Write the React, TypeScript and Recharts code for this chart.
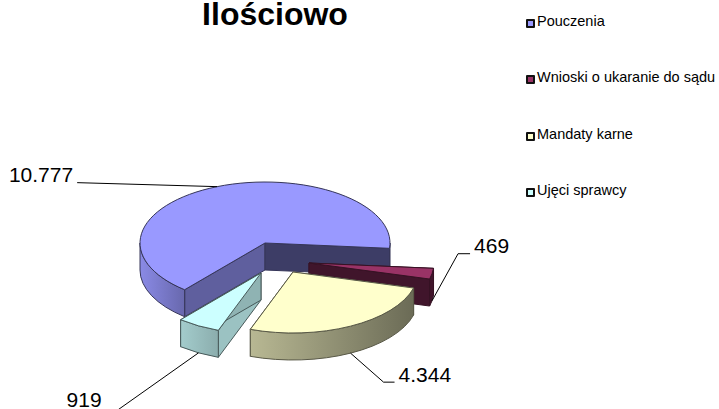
import React from 'react'
import { PieChart, Pie, Legend } from 'recharts'

const categories = ['Pouczenia', 'Wnioski o ukaranie do sądu', 'Mandaty karne', 'Ujęci sprawcy']
const values = [10777, 469, 4344, 919]
const valueLabels = ['10.777', '469', '4.344', '919']
const colors = ['#9999ff', '#993366', '#ffffcc', '#ccffff']

const chartData = categories.map((name, i) => ({ name, value: values[i], fill: colors[i] }))

const FONT = 'Arial, "Liberation Sans", sans-serif'

// tilt of the fake 3D pie
const SQUASH = 0.488
const DEPTH = 27

// explosion of every slice, in px
const explode = [
  { x: 0, y: 0 },
  { x: 44, y: 20 },
  { x: 28, y: 29 },
  { x: -4, y: 30 },
]

// shades of the side walls: outer left, outer right, start cut, end cut
const wallShades = [
  [0.9, 0.68, 0.62, 0.4],
  [0.42, 0.42, 0.42, 0.42],
  [0.72, 0.42, 0.5, 0.5],
  [0.8, 0.68, 0.76, 0.7],
]

// leader line after it leaves the slice, relative to the slice edge + where the text goes
const leaders = [
  { elbow: [-140, -4], tail: [-140, -4], text: [-144, 7], anchor: 'end', low: false },
  { elbow: [26, -47], tail: [38, -47], text: [42, -55], anchor: 'start', low: true },
  { elbow: [33, 29], tail: [44, 29], text: [48, 22], anchor: 'start', low: true },
  { elbow: [-82, 58], tail: [-82, 58], text: [-132, 47], anchor: 'start', low: true },
]

const RAD = Math.PI / 180

function shade(hex: string, k: number) {
  const n = parseInt(hex.slice(1), 16)
  const c = (v: number) => Math.round(v * k)
  return `rgb(${c((n >> 16) & 255)},${c((n >> 8) & 255)},${c(n & 255)})`
}

function SliceShape(props: any) {
  const { cx, cy, outerRadius: r, startAngle, endAngle, fill, index } = props
  const i = index ?? categories.indexOf(props.name)
  const ox = cx + explode[i].x
  const oy = cy + explode[i].y
  const rx = r
  const ry = r * SQUASH
  const pt = (a: number, d = 0) => [ox + rx * Math.cos(a * RAD), oy - ry * Math.sin(a * RAD) + d]
  const [s0, s1, s2, s3] = wallShades[i]
  const edge = shade(fill, 0.35)
  const gid = `wall-${i}`

  const top = () => {
    const a = pt(startAngle)
    const b = pt(endAngle)
    const large = startAngle - endAngle > 180 ? 1 : 0
    return `M${ox},${oy} L${a[0]},${a[1]} A${rx},${ry} 0 ${large} 1 ${b[0]},${b[1]} Z`
  }
  const cut = (ang: number) => {
    const a = pt(ang)
    return `M${ox},${oy} L${a[0]},${a[1]} L${a[0]},${a[1] + DEPTH} L${ox},${oy + DEPTH} Z`
  }
  // only the lower half of the rim faces the viewer
  const rims: string[] = []
  for (const k of [-360, 0, 360]) {
    const from = Math.min(startAngle, k)
    const to = Math.max(endAngle, k - 180)
    if (from <= to) continue
    const a = pt(from)
    const b = pt(to)
    rims.push(
      `M${a[0]},${a[1]} A${rx},${ry} 0 0 1 ${b[0]},${b[1]} L${b[0]},${b[1] + DEPTH} A${rx},${ry} 0 0 0 ${a[0]},${a[1] + DEPTH} Z`
    )
  }

  return (
    <g>
      <defs>
        <linearGradient id={gid} x1="0" y1="0" x2="1" y2="0">
          <stop offset="0%" stopColor={shade(fill, s0)} />
          <stop offset="100%" stopColor={shade(fill, s1)} />
        </linearGradient>
      </defs>
      <path d={cut(startAngle)} fill={shade(fill, s2)} stroke={edge} strokeWidth={1} />
      <path d={cut(endAngle)} fill={shade(fill, s3)} stroke={edge} strokeWidth={1} />
      {rims.map((d, n) => (
        <path key={n} d={d} fill={`url(#${gid})`} stroke={edge} strokeWidth={1} />
      ))}
      <path d={top()} fill={fill} stroke={edge} strokeWidth={1} />
    </g>
  )
}

function SliceLabel(props: any) {
  const { cx, cy, outerRadius: r, midAngle, index } = props
  const l = leaders[index]
  const sx = cx + explode[index].x + r * Math.cos(midAngle * RAD)
  const sy = cy + explode[index].y - r * SQUASH * Math.sin(midAngle * RAD) + (l.low ? DEPTH : 0)
  const pts = [[sx, sy], [sx + l.elbow[0], sy + l.elbow[1]], [sx + l.tail[0], sy + l.tail[1]]]
  return (
    <g>
      <polyline points={pts.map(p => p.join(',')).join(' ')} fill="none" stroke="#000" strokeWidth={1} />
      <text
        x={sx + l.text[0]}
        y={sy + l.text[1]}
        textAnchor={l.anchor}
        fontFamily={FONT}
        fontSize={21}
        fill="#000"
        dy={l.low ? 7 : -12}
      >
        {valueLabels[index]}
      </text>
    </g>
  )
}

function LegendBox({ payload }: any) {
  return (
    <div style={{ fontFamily: FONT, fontSize: 14.5, color: '#000' }}>
      {(payload ?? []).map((entry: any) => (
        <div key={entry.value} style={{ height: 56.3, display: 'flex', alignItems: 'flex-start', whiteSpace: 'nowrap' }}>
          <span
            style={{
              width: 5,
              height: 5,
              marginTop: 5,
              marginRight: 2,
              border: '2px solid #111',
              borderRadius: 1,
              background: entry.payload?.fill ?? entry.color,
            }}
          />
          <span style={{ lineHeight: '15px' }}>{entry.value}</span>
        </div>
      ))}
    </div>
  )
}

export default function App() {
  return (
    <div style={{ position: 'absolute', left: 0, top: 0, width: 719, height: 409, overflow: 'hidden', background: '#fff' }}>
      <PieChart width={719} height={409} margin={{ top: 0, right: 0, bottom: 0, left: 0 }}>
        <text x={275} y={25} textAnchor="middle" fontFamily={FONT} fontSize={32} fontWeight="bold" fill="#000">
          Ilościowo
        </text>
        <Pie
          data={chartData}
          dataKey="value"
          nameKey="name"
          cx={265}
          cy={243}
          outerRadius={125}
          startAngle={230}
          endAngle={-130}
          isAnimationActive={false}
          shape={SliceShape}
          label={SliceLabel}
          labelLine={false}
        />
        <Legend
          layout="vertical"
          align="right"
          verticalAlign="top"
          itemSorter={null}
          content={LegendBox}
          wrapperStyle={{ right: 0, top: 14, width: 193 }}
        />
      </PieChart>
    </div>
  )
}
